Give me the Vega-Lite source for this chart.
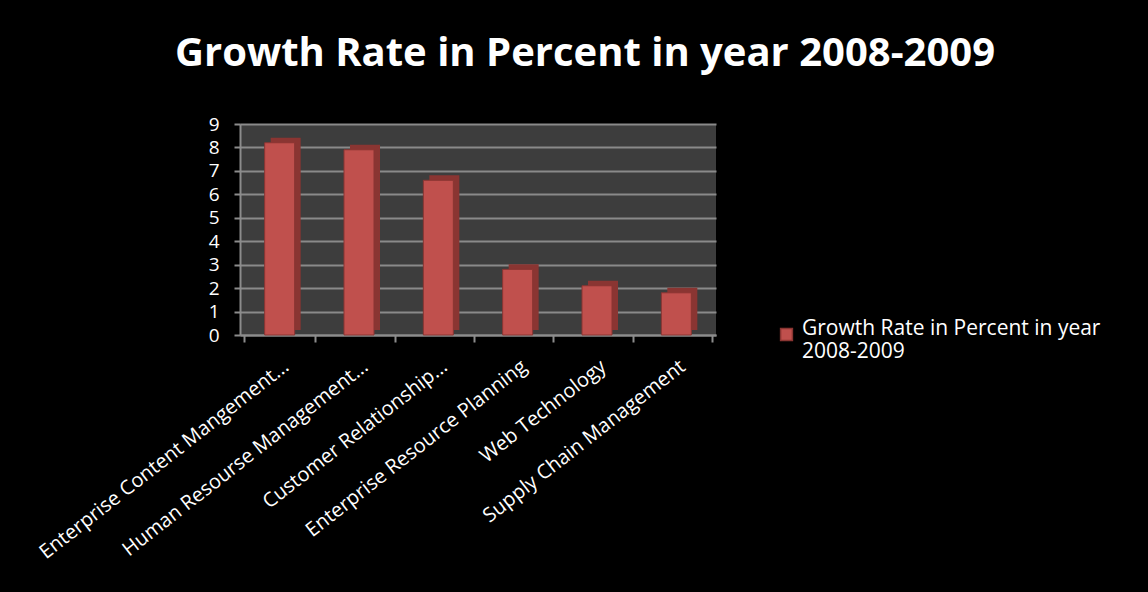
{
  "$schema": "https://vega.github.io/schema/vega-lite/v6.json",
  "autosize": "none",
  "width": 476,
  "height": 211,
  "padding": {"left": 240, "top": 124, "right": 432, "bottom": 257},
  "background": "#000000",
  "title": {
    "text": "Growth Rate in Percent in year 2008-2009",
    "anchor": "middle",
    "frame": "group",
    "dx": 107,
    "offset": 41,
    "fontSize": 40,
    "font": "Open Sans",
    "fontWeight": "bold",
    "color": "#ffffff"
  },
  "data": {
    "values": [
      {"category": "Enterprise Content Mangement...", "value": 8.2, "series": "Growth Rate in Percent in year 2008-2009"},
      {"category": "Human Resourse Management...", "value": 7.9, "series": "Growth Rate in Percent in year 2008-2009"},
      {"category": "Customer Relationship...", "value": 6.6, "series": "Growth Rate in Percent in year 2008-2009"},
      {"category": "Enterprise Resource Planning", "value": 2.8, "series": "Growth Rate in Percent in year 2008-2009"},
      {"category": "Web Technology", "value": 2.1, "series": "Growth Rate in Percent in year 2008-2009"},
      {"category": "Supply Chain Management", "value": 1.8, "series": "Growth Rate in Percent in year 2008-2009"}
    ]
  },
  "encoding": {
    "x": {
      "field": "category",
      "type": "nominal",
      "sort": null,
      "title": null,
      "axis": {
        "labelAngle": -38,
        "labelFont": "Open Sans",
        "labelFontSize": 20,
        "labelColor": "#ffffff",
        "labelLimit": 400,
        "domainColor": "#8c8c8c",
        "domainWidth": 2,
        "tickColor": "#8c8c8c",
        "tickWidth": 2,
        "tickSize": 7,
        "tickBand": "extent",
        "labelPadding": 14
      }
    },
    "y": {
      "field": "value",
      "type": "quantitative",
      "scale": {"domain": [0, 9]},
      "title": null,
      "axis": {
        "values": [0, 1, 2, 3, 4, 5, 6, 7, 8, 9],
        "labelFont": "Open Sans",
        "labelFontSize": 19,
        "labelColor": "#ffffff",
        "domainColor": "#8c8c8c",
        "domainWidth": 2,
        "tickColor": "#8c8c8c",
        "tickWidth": 2,
        "tickSize": 6,
        "labelPadding": 15,
        "gridColor": "#8a8a8a",
        "gridWidth": 2
      }
    }
  },
  "layer": [
    {
      "mark": {"type": "bar", "size": 30, "color": "#8a3532", "xOffset": 6, "yOffset": -5}
    },
    {
      "mark": {"type": "bar", "size": 30, "stroke": "#8a3532", "strokeWidth": 1},
      "encoding": {
        "color": {
          "field": "series",
          "type": "nominal",
          "scale": {"range": ["#c0504d"]},
          "legend": {
            "title": null,
            "orient": "none",
            "legendX": 536,
            "legendY": 200,
            "symbolType": "square",
            "symbolSize": 140,
            "symbolStrokeColor": "#8a3532",
            "labelFont": "Open Sans",
            "labelFontSize": 21,
            "labelColor": "#ffffff",
            "labelLimit": 500,
            "labelExpr": "['Growth Rate in Percent in year', '2008-2009']",
            "labelBaseline": "alphabetic",
            "labelOffset": 5
          }
        }
      }
    }
  ],
  "config": {
    "view": {"fill": "#3d3d3d", "stroke": null}
  }
}
